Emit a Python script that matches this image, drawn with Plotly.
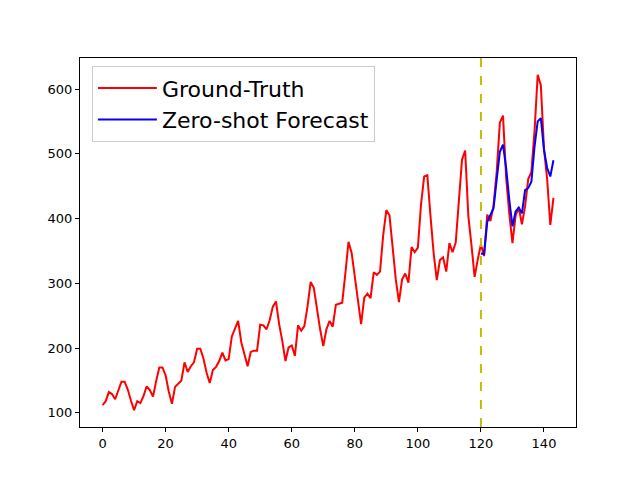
import plotly.graph_objects as go

# monthly passenger counts (ground truth), index 0..143
ground_truth = [
    112, 118, 132, 129, 121, 135, 148, 148, 136, 119, 104, 118,
    115, 126, 141, 135, 125, 149, 170, 170, 158, 133, 114, 140,
    145, 150, 178, 163, 172, 178, 199, 199, 184, 162, 146, 166,
    171, 180, 193, 181, 183, 218, 230, 242, 209, 191, 172, 194,
    196, 196, 236, 235, 229, 243, 264, 272, 237, 211, 180, 201,
    204, 188, 235, 227, 234, 264, 302, 293, 259, 229, 203, 229,
    242, 233, 267, 269, 270, 315, 364, 347, 312, 274, 237, 278,
    284, 277, 317, 313, 318, 374, 413, 405, 355, 306, 271, 306,
    315, 301, 356, 348, 355, 422, 465, 467, 404, 347, 305, 336,
    340, 318, 362, 348, 363, 435, 491, 505, 404, 359, 310, 337,
    360, 342, 406, 396, 420, 472, 548, 559, 463, 407, 362, 405,
    417, 391, 419, 461, 472, 535, 622, 606, 508, 461, 390, 432,
]

# zero-shot forecast, starting at the cutoff index
forecast_start = 120
forecast = [
    346, 345, 395, 406, 416, 460, 503, 514, 478, 429, 388, 411,
    417, 408, 444, 447, 457, 511, 550, 555, 506, 478, 465, 490,
]

x_gt = list(range(len(ground_truth)))
x_fc = list(range(forecast_start, forecast_start + len(forecast)))

fig = go.Figure()

fig.add_trace(go.Scatter(
    x=x_gt, y=ground_truth,
    mode='lines',
    name='Ground-Truth',
    line=dict(color='red', width=2)
))

fig.add_trace(go.Scatter(
    x=x_fc, y=forecast,
    mode='lines',
    name='Zero-shot Forecast',
    line=dict(color='blue', width=2)
))

fig.add_vline(x=forecast_start, line=dict(color='#bfbf00', width=2, dash='dash'))

axis_style = dict(
    showgrid=False, zeroline=False,
    showline=True, linecolor='black', linewidth=1, mirror=True,
    ticks='outside', ticklen=4, tickcolor='black',
    tickfont=dict(size=13, color='black'),
)

# page body adds an 8px margin, so the figure is a bit smaller than the window
fig.update_layout(
    width=624, height=464,
    margin=dict(l=72, r=56, t=50, b=45),
    paper_bgcolor='white', plot_bgcolor='white',
    font=dict(family='DejaVu Sans', color='black'),
    showlegend=True,
    legend=dict(
        x=0.024, y=0.978, xanchor='left', yanchor='top',
        font=dict(size=22),
        itemwidth=59,
        bordercolor='#cccccc', borderwidth=1,
        bgcolor='rgba(255,255,255,0.8)',
    ),
    xaxis=dict(range=[-7.15, 150.15], tickvals=[0, 20, 40, 60, 80, 100, 120, 140], **axis_style),
    yaxis=dict(range=[78.1, 647.9], tickvals=[100, 200, 300, 400, 500, 600], **axis_style),
)

fig.write_html("out.html")
